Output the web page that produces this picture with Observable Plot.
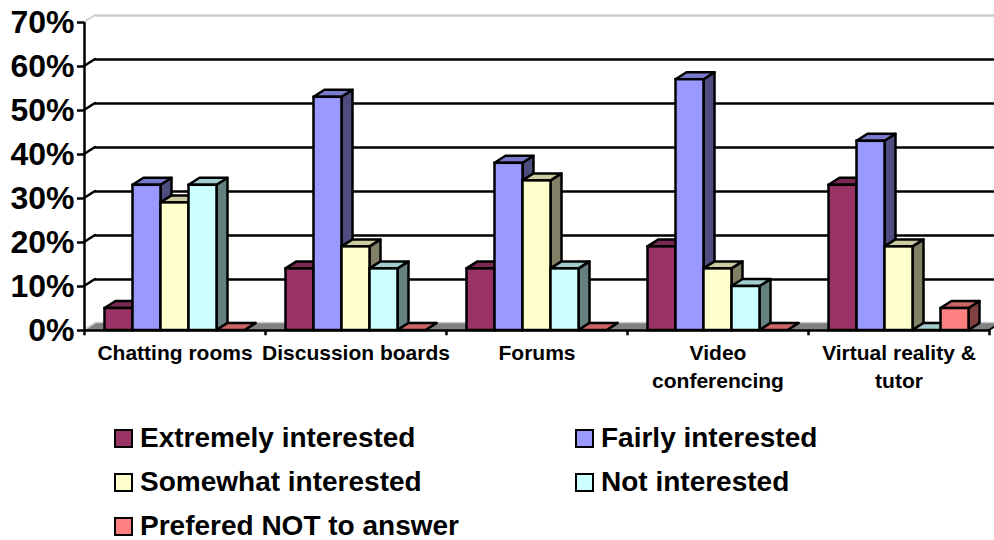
<!DOCTYPE html>
<html><head><meta charset="utf-8">
<script src="https://cdn.jsdelivr.net/npm/d3@7"></script>
<script src="https://cdn.jsdelivr.net/npm/@observablehq/plot@0.6"></script>
<style>
html,body{margin:0;padding:0;background:#fff;overflow:hidden;width:994px;height:540px}
svg{display:block}
#legend{position:relative;height:140px;font:bold 28px "Liberation Sans",Arial,sans-serif;color:#000}
.item{position:absolute;display:flex;align-items:center;height:30px;white-space:nowrap}
.sw{box-sizing:border-box;width:19px;height:19px;border:2.5px solid #000;margin-right:7px}
</style></head><body>
<div id="chart"></div>
<div id="legend"></div>
<script>
const categories = ["Chatting rooms","Discussion boards","Forums","Video conferencing","Virtual reality & tutor"];
const categoryLabels = ["Chatting rooms","Discussion boards","Forums","Video\nconferencing","Virtual reality &\ntutor"];
const seriesNames = ["Extremely interested","Fairly interested","Somewhat interested","Not interested","Prefered NOT to answer"];
const extremely = [5,14,14,19,33];
const fairly = [33,53,38,57,43];
const somewhat = [29,19,34,14,19];
const notInterested = [33,14,14,10,0];
const prefered = [0,0,0,0,5];
const seriesValues = [extremely,fairly,somewhat,notInterested,prefered];
const frontColors = ["#993366","#9999ff","#ffffcc","#ccffff","#ff8080"];
const topColors = ["#7a2952","#7a7acc","#cccca3","#a3cccc","#cc6666"];
const sideColors = ["#4d1a33","#4d4d80","#808066","#668080","#804040"];
const yTicks = [0,10,20,30,40,50,60,70];
const gridValues = [10,20,30,40,50,60];

const DX = 11, DY = 7, BAR = 28, PAD = 20.5, STEP = 181;
const NS = "http://www.w3.org/2000/svg";
function poly(parent, pts, fill, stroke, sw){
  const p = document.createElementNS(NS,"polygon");
  p.setAttribute("points", pts.map(d=>d.join(",")).join(" "));
  p.setAttribute("fill", fill);
  if (stroke){p.setAttribute("stroke", stroke);p.setAttribute("stroke-width", sw);p.setAttribute("stroke-linejoin","round");}
  return p;
}
function bars3d(j){
  return function(index, scales, values, dims, ctx, next){
    const g = next(index, scales, values, dims, ctx);
    g.querySelectorAll("rect").forEach(r=>{
      const x=+r.getAttribute("x"), y=+r.getAttribute("y"), w=+r.getAttribute("width"), h=+r.getAttribute("height");
      r.parentNode.insertBefore(poly(r,[[x+w,y],[x+w+DX,y-DY],[x+w+DX,y+h-DY],[x+w,y+h]],sideColors[j],"#000",2.5),r);
      r.parentNode.insertBefore(poly(r,[[x,y],[x+DX,y-DY],[x+w+DX,y-DY],[x+w,y]],topColors[j],"#000",2.5),r);
    });
    return g;
  };
}
function walls(index, {y}, values, dims){
  const g = document.createElementNS(NS,"g");
  const L = dims.marginLeft, R = dims.width - dims.marginRight;
  const add = (pts,fill,stroke,sw)=>g.appendChild(poly(g,pts,fill,stroke,sw));
  const y0 = y(0);
  add([[L,y0],[L+DX,y0-DY],[R+DX,y0-DY],[R,y0]],"#808080");
  add([[R,y0],[R+DX,y0-DY]],"none","#000",2);
  for (const t of yTicks){
    const yy = y(t);
    const light = t===0||t===yTicks[yTicks.length-1];
    add([[L,yy],[L+DX,yy-DY]],"none",light?"#cccccc":"#000",light?1.5:2.5);
  }
  return g;
}

const plot = Plot.plot({
  width: 994, height: 400,
  marginLeft: 84, marginRight: 5, marginTop: 22, marginBottom: 70,
  style: {background:"#fff", fontFamily:'"Liberation Sans",Arial,sans-serif', overflow:"hidden"},
  x: {type:"band", domain:categories, padding:0, align:0.5, axis:null},
  y: {domain:[0,70], axis:null},
  marks: [
    walls,
    Plot.ruleY(gridValues,{dx:DX,dy:-DY,stroke:"#000",strokeWidth:2.5,strokeOpacity:1}),
    Plot.ruleY([70],{dx:DX,dy:-DY,stroke:"#ccc",strokeWidth:2.5}),
    Plot.ruleY([0],{dx:DX,dy:-DY-1,stroke:"#ccc",strokeWidth:1.5}),
    ...seriesValues.map((vals,j)=>Plot.barY(vals,{
      x:categories, y:vals,
      insetLeft:PAD+BAR*j, insetRight:STEP-PAD-BAR*(j+1),
      fill:frontColors[j], stroke:"#000", strokeWidth:2.5,
      render:bars3d(j)
    })),
    Plot.ruleX(categories,{x:d=>d,dx:-STEP/2,y1:0,y2:-1.2,stroke:"#000",strokeWidth:2.5}),
    Plot.ruleX([categories[4]],{x:d=>d,dx:STEP/2,y1:0,y2:-1.2,stroke:"#000",strokeWidth:2.5}),
    Plot.ruleX([categories[0]],{x:d=>d,dx:-STEP/2,y1:0,y2:70,stroke:"#000",strokeWidth:2.5}),
    Plot.ruleY([0],{stroke:"#000",strokeWidth:2.5}),
    Plot.axisY({ticks:yTicks,tickFormat:d=>d+"%",tickSize:7,tickPadding:3,strokeWidth:2.5,stroke:"#000",label:null,
      fontSize:32,fontWeight:"bold",fill:"#000",marginLeft:84}),
    Plot.axisX({tickSize:0,tickPadding:10,label:null,fontSize:21,fontWeight:"bold",fill:"#000",lineHeight:1.333,
      textOverflow:null,lineWidth:Infinity,
      tickFormat:d=>categoryLabels[categories.indexOf(d)]})
  ]
});
document.getElementById("chart").appendChild(plot);

const legend = document.getElementById("legend");
const colX = [114,575], rowY = [23,67,111];
seriesNames.forEach((name,i)=>{
  const it=document.createElement("div");it.className="item";
  it.style.left=colX[i%2]+"px";it.style.top=rowY[Math.floor(i/2)]+"px";
  const s=document.createElement("span");s.className="sw";s.style.background=frontColors[i];
  const t=document.createElement("span");t.textContent=name;
  it.append(s,t);legend.appendChild(it);
});
</script>
</body></html>
